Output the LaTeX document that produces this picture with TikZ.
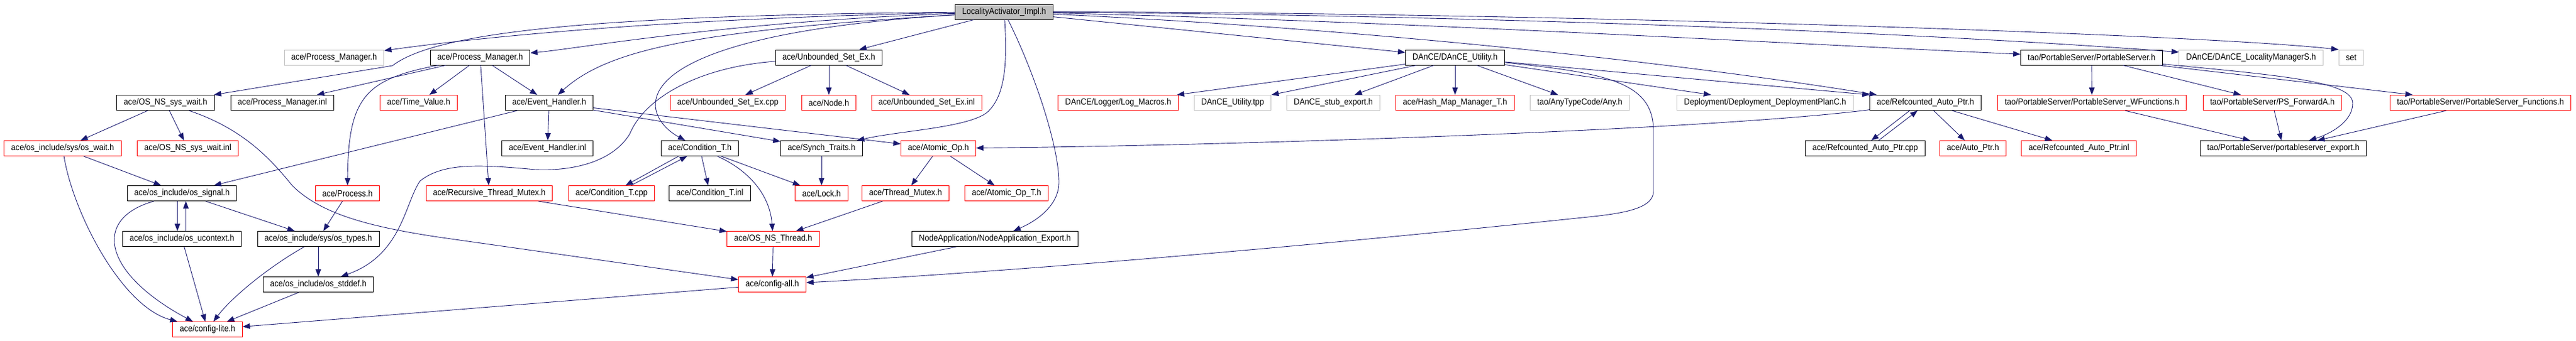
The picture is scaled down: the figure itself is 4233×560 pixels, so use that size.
\documentclass[tikz,border=0pt]{standalone}
\usepackage{fontspec}
\setmainfont{Liberation Sans}[FakeStretch=0.9]
\usetikzlibrary{arrows.meta}
\definecolor{edgeblue}{HTML}{191970}
\definecolor{boxgray}{HTML}{BFBFBF}
\begin{document}
\begin{tikzpicture}[x=1pt,y=-1pt,
    file/.style={draw=black,line width=1pt,minimum height=25pt,
      inner xsep=11.5pt,inner ysep=0pt,font=\fontsize{14.5}{17}\selectfont},
    missing/.style={file,draw=red},
    gone/.style={file,draw=boxgray},
    root/.style={file,fill=boxgray},
    inc/.style={color=edgeblue,line width=0.9pt,-{Triangle[length=12pt,width=9pt]}}]
  \useasboundingbox (0,0) rectangle (4233,560);
  \path
    (1650,19.5) node[root] (r) {LocalityActivator\_Impl.h}
    (549,94.5) node[gone] (pmg) {ace/Process\_Manager.h}
    (789,94.5) node[file] (pm) {ace/Process\_Manager.h}
    (1362,94.5) node[file] (use) {ace/Unbounded\_Set\_Ex.h}
    (2391,94.5) node[file] (dutil) {DAnCE/DAnCE\_Utility.h}
    (3437,94.5) node[file] (ps) {tao/PortableServer/PortableServer.h}
    (3699,94.5) node[gone] (lms) {DAnCE/DAnCE\_LocalityManagerS.h}
    (3863.5,94.5) node[gone] (stdset) {set}
    (272,169) node[file] (oswait) {ace/OS\_NS\_sys\_wait.h}
    (464,169) node[file] (pminl) {ace/Process\_Manager.inl}
    (688,169) node[missing] (tv) {ace/Time\_Value.h}
    (902.5,169) node[file] (eh) {ace/Event\_Handler.h}
    (1196,169) node[missing] (usecpp) {ace/Unbounded\_Set\_Ex.cpp}
    (1362,169) node[missing] (nodeh) {ace/Node.h}
    (1522.6,169) node[missing] (useinl) {ace/Unbounded\_Set\_Ex.inl}
    (1837.5,169) node[missing] (logm) {DAnCE/Logger/Log\_Macros.h}
    (2025.5,169) node[gone] (tpp) {DAnCE\_Utility.tpp}
    (2191,169) node[gone] (stub) {DAnCE\_stub\_export.h}
    (2391,169) node[missing] (hash) {ace/Hash\_Map\_Manager\_T.h}
    (2596,169) node[gone] (any) {tao/AnyTypeCode/Any.h}
    (2900.5,169) node[gone] (plan) {Deployment/Deployment\_DeploymentPlanC.h}
    (3164,169) node[file] (refc) {ace/Refcounted\_Auto\_Ptr.h}
    (3437.5,169) node[missing] (wfunc) {tao/PortableServer/PortableServer\_WFunctions.h}
    (3734,169) node[missing] (psfwd) {tao/PortableServer/PS\_ForwardA.h}
    (4076,169) node[missing] (psfunc) {tao/PortableServer/PortableServer\_Functions.h}
    (103,244) node[missing] (oswaith) {ace/os\_include/sys/os\_wait.h}
    (308.5,244) node[missing] (oswaitinl) {ace/OS\_NS\_sys\_wait.inl}
    (899.5,244) node[file] (ehinl) {ace/Event\_Handler.inl}
    (1150,244) node[file] (condt) {ace/Condition\_T.h}
    (1350,244) node[file] (synch) {ace/Synch\_Traits.h}
    (1542,244) node[missing] (atomic) {ace/Atomic\_Op.h}
    (3065,244) node[file] (refccpp) {ace/Refcounted\_Auto\_Ptr.cpp}
    (3242,244) node[missing] (autoptr) {ace/Auto\_Ptr.h}
    (3416,244) node[missing] (refcinl) {ace/Refcounted\_Auto\_Ptr.inl}
    (3752,244) node[file] (psexp) {tao/PortableServer/portableserver\_export.h}
    (299,318) node[file] (signal) {ace/os\_include/os\_signal.h}
    (571,318) node[missing] (process) {ace/Process.h}
    (804,318) node[missing] (rtm) {ace/Recursive\_Thread\_Mutex.h}
    (1005,318) node[missing] (condtcpp) {ace/Condition\_T.cpp}
    (1166.5,318) node[file] (condtinl) {ace/Condition\_T.inl}
    (1350,318) node[missing] (lock) {ace/Lock.h}
    (1488,318) node[missing] (tmutex) {ace/Thread\_Mutex.h}
    (1654,318) node[missing] (atomict) {ace/Atomic\_Op\_T.h}
    (299,393) node[file] (ucontext) {ace/os\_include/os\_ucontext.h}
    (523,393) node[file] (ostypes) {ace/os\_include/sys/os\_types.h}
    (1270.5,393) node[missing] (osthread) {ace/OS\_NS\_Thread.h}
    (1635,393) node[file] (naexp) {NodeApplication/NodeApplication\_Export.h}
    (523,468) node[file] (stddef) {ace/os\_include/os\_stddef.h}
    (1269,468) node[missing] (configall) {ace/config-all.h}
    (341,542) node[missing] (configlite) {ace/config-lite.h};
  \begin{scope}[inc]
    \draw (r) .. controls (1100,30) and (800,60) .. (pmg);
    \draw (r) .. controls (1000,25) and (720,50) .. (645,108) -- (oswait);
    \draw (r) .. controls (1200,35) and (950,80) .. (pm);
    \draw (r) .. controls (1150,50) and (1000,80) .. (eh);
    \draw (r) .. controls (1000,60) and (1050,190) .. (condt);
    \draw (r) to (use);
    \draw (r) .. controls (1656,110) and (1650,160) .. (1622,185) .. controls (1590,210) and (1480,215) .. (synch);
    \draw (r) .. controls (1700,120) and (1740,240) .. (1740,300) .. controls (1740,340) and (1700,365) .. (naexp);
    \draw (r) to (dutil);
    \draw (r) .. controls (2300,50) and (2800,110) .. (refc);
    \draw (r) .. controls (2300,35) and (2900,70) .. (ps);
    \draw (r) .. controls (2400,25) and (3100,50) .. (lms);
    \draw (r) .. controls (2500,20) and (3600,55) .. (stdset.north west);
    \draw (pm) to (pminl);
    \draw (pm) .. controls (600,130) and (572,160) .. (process);
    \draw (pm) to (tv);
    \draw (pm) to (eh);
    \draw (pm) to (rtm);
    \draw (oswait) to (oswaith);
    \draw (oswait) to (oswaitinl);
    \draw (oswait) .. controls (400,212) and (445,262) .. (480,305) .. controls (525,350) and (600,372) .. (720,390) -- (configall);
    \draw (oswaith) .. controls (120,350) and (200,505) .. (configlite);
    \draw (oswaith) to (signal);
    \draw (eh) to (ehinl);
    \draw (eh) to (synch);
    \draw (eh) to (atomic);
    \draw (eh) to (signal);
    \draw (use) to (usecpp);
    \draw (use) to (nodeh);
    \draw (use) to (useinl);
    \draw (use) .. controls (1150,110) and (1060,160) .. (1035,220) .. controls (1010,262) and (950,282) .. (880,279) .. controls (800,272) and (730,265) .. (690,298) .. controls (665,335) and (660,420) .. (stddef);
    \draw ([xshift=-35pt]condt.south) to ([xshift=23pt]condtcpp.north);
    \draw ([xshift=32pt]condtcpp.north) to ([xshift=-21pt]condt.south);
    \draw (condt) to (condtinl);
    \draw (condt) .. controls (1230,280) and (1265,320) .. (osthread);
    \draw (condt) to (lock);
    \draw (synch) to (lock);
    \draw (rtm) to (osthread);
    \draw (tmutex) to (osthread);
    \draw (osthread) to (configall);
    \draw (naexp) to (configall);
    \draw (configall) to (configlite);
    \draw (atomic) to (tmutex);
    \draw (atomic) to (atomict);
    \draw (dutil) to (logm);
    \draw (dutil) to (tpp);
    \draw (dutil) to (stub);
    \draw (dutil) to (hash);
    \draw (dutil) to (any);
    \draw (dutil) to (plan);
    \draw (dutil) to (refc.north west);
    \draw (dutil) .. controls (2640,120) and (2717,135) .. (2717,215) -- (2717,315) .. controls (2717,345) and (2660,352) .. (2600,358) .. controls (2200,400) and (1700,445) .. (configall);
    \draw ([xshift=-26pt]refc.south) to ([xshift=10pt]refccpp.north);
    \draw ([xshift=22pt]refccpp.north) to ([xshift=-13pt]refc.south);
    \draw (refc) to (autoptr);
    \draw (refc) to (refcinl);
    \draw (refc) .. controls (2800,215) and (2000,240) .. (atomic);
    \draw (ps) to (wfunc);
    \draw (ps) to (psfwd);
    \draw (ps) .. controls (3760,125) and (3866,135) .. (3866,170) .. controls (3866,200) and (3830,220) .. (psexp);
    \draw (ps) to (psfunc);
    \draw (wfunc) to (psexp);
    \draw (psfwd) to (psexp);
    \draw (psfunc) to (psexp);
    \draw (signal) .. controls (150,360) and (170,450) .. (configlite);
    \draw ([xshift=-7.5pt]signal.south) to ([xshift=-7.5pt]ucontext.north);
    \draw ([xshift=6.5pt]ucontext.north) to ([xshift=6.5pt]signal.south);
    \draw (signal) to (ostypes);
    \draw (process) to (ostypes);
    \draw (ucontext) to (configlite);
    \draw (ostypes) .. controls (440,440) and (380,490) .. (configlite);
    \draw (ostypes) to (stddef);
    \draw (stddef) to (configlite);
  \end{scope}
\end{tikzpicture}
\end{document}
